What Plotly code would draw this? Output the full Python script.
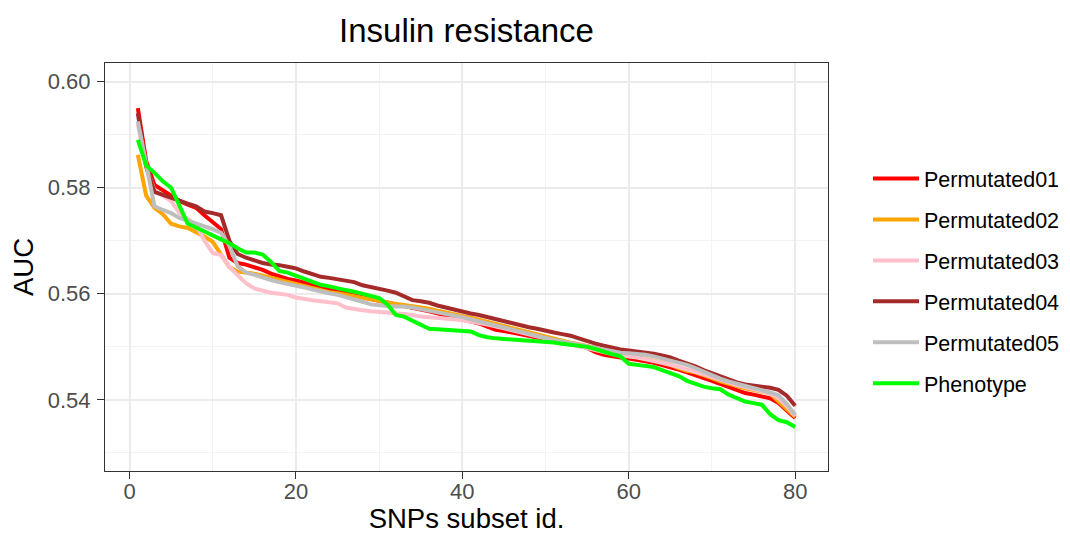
import plotly.graph_objects as go

subset_id = list(range(1, 81))

permutated01 = [0.5950, 0.5850, 0.5805, 0.5795, 0.5785, 0.5775, 0.5768, 0.5762, 0.5748, 0.5735,
                0.5722, 0.5668, 0.5658, 0.5655, 0.5650, 0.5645, 0.5638, 0.5632, 0.5628, 0.5625,
                0.5621, 0.5617, 0.5613, 0.5609, 0.5605, 0.5601, 0.5597, 0.5594, 0.5590, 0.5587,
                0.5583, 0.5580, 0.5577, 0.5574, 0.5570, 0.5567, 0.5563, 0.5559, 0.5556, 0.5552,
                0.5548, 0.5544, 0.5538, 0.5532, 0.5530, 0.5527, 0.5524, 0.5521, 0.5518, 0.5515,
                0.5512, 0.5509, 0.5505, 0.5502, 0.5498, 0.5490, 0.5485, 0.5482, 0.5480, 0.5478,
                0.5476, 0.5473, 0.5470, 0.5466, 0.5462, 0.5457, 0.5452, 0.5447, 0.5441, 0.5436,
                0.5430, 0.5424, 0.5418, 0.5413, 0.5410, 0.5406, 0.5403, 0.5394, 0.5381, 0.5366]

permutated02 = [0.5862, 0.5785, 0.5762, 0.5750, 0.5732, 0.5727, 0.5724, 0.5717, 0.5708, 0.5698,
                0.5675, 0.5650, 0.5642, 0.5640, 0.5638, 0.5634, 0.5630, 0.5626, 0.5622, 0.5619,
                0.5614, 0.5610, 0.5606, 0.5603, 0.5601, 0.5598, 0.5595, 0.5592, 0.5589, 0.5586,
                0.5583, 0.5581, 0.5579, 0.5577, 0.5575, 0.5572, 0.5568, 0.5565, 0.5561, 0.5558,
                0.5555, 0.5551, 0.5547, 0.5543, 0.5539, 0.5535, 0.5531, 0.5527, 0.5523, 0.5519,
                0.5515, 0.5511, 0.5508, 0.5505, 0.5502, 0.5498, 0.5494, 0.5490, 0.5487, 0.5484,
                0.5481, 0.5478, 0.5474, 0.5470, 0.5466, 0.5460, 0.5455, 0.5452, 0.5447, 0.5441,
                0.5435, 0.5430, 0.5426, 0.5422, 0.5419, 0.5415, 0.5412, 0.5397, 0.5383, 0.5368]

permutated03 = [0.5920, 0.5838, 0.5795, 0.5785, 0.5775, 0.5752, 0.5740, 0.5730, 0.5700, 0.5677,
                0.5673, 0.5651, 0.5635, 0.5620, 0.5610, 0.5606, 0.5602, 0.5600, 0.5598, 0.5593,
                0.5590, 0.5588, 0.5586, 0.5584, 0.5582, 0.5574, 0.5571, 0.5569, 0.5567, 0.5566,
                0.5565, 0.5564, 0.5562, 0.5560, 0.5557, 0.5556, 0.5555, 0.5553, 0.5552, 0.5550,
                0.5548, 0.5545, 0.5542, 0.5539, 0.5535, 0.5531, 0.5527, 0.5523, 0.5519, 0.5515,
                0.5512, 0.5508, 0.5505, 0.5501, 0.5498, 0.5494, 0.5490, 0.5487, 0.5484, 0.5482,
                0.5480, 0.5477, 0.5474, 0.5470, 0.5466, 0.5462, 0.5458, 0.5453, 0.5448, 0.5443,
                0.5437, 0.5432, 0.5428, 0.5424, 0.5420, 0.5416, 0.5412, 0.5403, 0.5388, 0.5370]

permutated04 = [0.5940, 0.5840, 0.5792, 0.5786, 0.5780, 0.5775, 0.5770, 0.5765, 0.5755, 0.5752,
                0.5748, 0.5700, 0.5675, 0.5668, 0.5663, 0.5658, 0.5655, 0.5654, 0.5651, 0.5648,
                0.5642, 0.5636, 0.5632, 0.5630, 0.5627, 0.5625, 0.5622, 0.5616, 0.5613, 0.5610,
                0.5606, 0.5602, 0.5595, 0.5588, 0.5586, 0.5583, 0.5578, 0.5574, 0.5570, 0.5566,
                0.5563, 0.5560, 0.5556, 0.5552, 0.5548, 0.5544, 0.5540, 0.5537, 0.5534, 0.5530,
                0.5527, 0.5524, 0.5521, 0.5516, 0.5510, 0.5506, 0.5502, 0.5498, 0.5495, 0.5493,
                0.5491, 0.5490, 0.5487, 0.5484, 0.5480, 0.5474, 0.5469, 0.5463, 0.5456, 0.5450,
                0.5444, 0.5438, 0.5433, 0.5429, 0.5427, 0.5425, 0.5423, 0.5419, 0.5408, 0.5389]

permutated05 = [0.5925, 0.5840, 0.5765, 0.5758, 0.5752, 0.5743, 0.5738, 0.5733, 0.5728, 0.5722,
                0.5715, 0.5690, 0.5652, 0.5640, 0.5636, 0.5630, 0.5626, 0.5622, 0.5619, 0.5615,
                0.5612, 0.5608, 0.5604, 0.5601, 0.5598, 0.5594, 0.5590, 0.5585, 0.5580, 0.5578,
                0.5577, 0.5576, 0.5576, 0.5574, 0.5571, 0.5568, 0.5566, 0.5563, 0.5559, 0.5556,
                0.5552, 0.5548, 0.5545, 0.5541, 0.5537, 0.5533, 0.5529, 0.5525, 0.5521, 0.5517,
                0.5513, 0.5510, 0.5507, 0.5503, 0.5500, 0.5497, 0.5494, 0.5491, 0.5489, 0.5488,
                0.5487, 0.5485, 0.5482, 0.5478, 0.5475, 0.5471, 0.5466, 0.5460, 0.5453, 0.5446,
                0.5440, 0.5435, 0.5431, 0.5427, 0.5423, 0.5419, 0.5414, 0.5409, 0.5392, 0.5372]

phenotype = [0.5890, 0.5842, 0.5828, 0.5812, 0.5800, 0.5768, 0.5732, 0.5725, 0.5718, 0.5710,
             0.5702, 0.5695, 0.5686, 0.5678, 0.5678, 0.5674, 0.5660, 0.5643, 0.5640, 0.5634,
             0.5628, 0.5622, 0.5617, 0.5614, 0.5610, 0.5607, 0.5604, 0.5600, 0.5596, 0.5592,
             0.5580, 0.5560, 0.5557, 0.5550, 0.5542, 0.5534, 0.5533, 0.5532, 0.5531, 0.5530,
             0.5529, 0.5522, 0.5518, 0.5516, 0.5515, 0.5514, 0.5513, 0.5511, 0.5510, 0.5509,
             0.5508, 0.5506, 0.5504, 0.5502, 0.5500, 0.5496, 0.5490, 0.5486, 0.5482, 0.5468,
             0.5466, 0.5464, 0.5462, 0.5456, 0.5450, 0.5445, 0.5436, 0.5430, 0.5425, 0.5422,
             0.5420, 0.5410, 0.5404, 0.5397, 0.5394, 0.5391, 0.5373, 0.5362, 0.5358, 0.5349]

series_names = ["Permutated01", "Permutated02", "Permutated03", "Permutated04", "Permutated05", "Phenotype"]
series_values = [permutated01, permutated02, permutated03, permutated04, permutated05, phenotype]
series_colors = ["#FF0000", "#FFA500", "#FFC0CB", "#A52A2A", "#BEBEBE", "#00FF00"]

x_ticks = [0, 20, 40, 60, 80]
y_ticks = [0.54, 0.56, 0.58, 0.60]
y_tick_labels = ["0.54", "0.56", "0.58", "0.60"]

FONT = "Liberation Sans, Arial, sans-serif"

# The page body has an 8px default margin, so the figure is drawn 8px smaller.
FIG_W, FIG_H = 1062, 526

fig = go.Figure()
for name, vals, col in zip(series_names, series_values, series_colors):
    fig.add_trace(go.Scatter(x=subset_id, y=vals, mode="lines", name=name,
                             legendgroup=name,
                             line=dict(color=col, width=4)))

axis_common = dict(
    showline=True, linecolor="#333333", linewidth=1, mirror=True,
    ticks="outside", ticklen=7, tickcolor="#333333", tickwidth=1,
    showgrid=True, gridcolor="#EBEBEB", gridwidth=1.5,
    zeroline=False, automargin=False,
    tickfont=dict(family=FONT, size=22, color="#4D4D4D"),
)

fig.update_layout(
    width=FIG_W, height=FIG_H,
    margin=dict(l=97, r=242, t=55, b=63),
    paper_bgcolor="white", plot_bgcolor="white",
    title=dict(text="Insulin resistance", x=0.5, xref="paper", xanchor="center",
               y=1 - 22 / FIG_H, yref="container", yanchor="middle",
               font=dict(family=FONT, size=33, color="black")),
    xaxis=dict(range=[-2.95, 83.95], tickvals=x_ticks, ticklabelstandoff=-6,
               minor=dict(tickvals=[10, 30, 50, 70], showgrid=True, gridcolor="#F3F3F3", gridwidth=1, ticks=""),
               title=dict(text="SNPs subset id.", font=dict(family=FONT, size=27.5, color="black"), standoff=6),
               **axis_common),
    yaxis=dict(range=[0.5266, 0.6035], tickvals=y_ticks, ticktext=y_tick_labels, ticklabelstandoff=2,
               minor=dict(tickvals=[0.53, 0.55, 0.57, 0.59], showgrid=True, gridcolor="#F3F3F3", gridwidth=1, ticks=""),
               title=dict(text="AUC", font=dict(family=FONT, size=27.5, color="black"), standoff=6),
               **axis_common),
    legend=dict(xref="container", yref="container",
                x=860 / FIG_W, xanchor="left", y=1 - 150 / FIG_H, yanchor="top",
                font=dict(family=FONT, size=21.5, color="black"),
                traceorder="grouped", tracegroupgap=10, itemwidth=46,
                bgcolor="rgba(0,0,0,0)"),
    showlegend=True,
)

fig.write_html("out.html")
